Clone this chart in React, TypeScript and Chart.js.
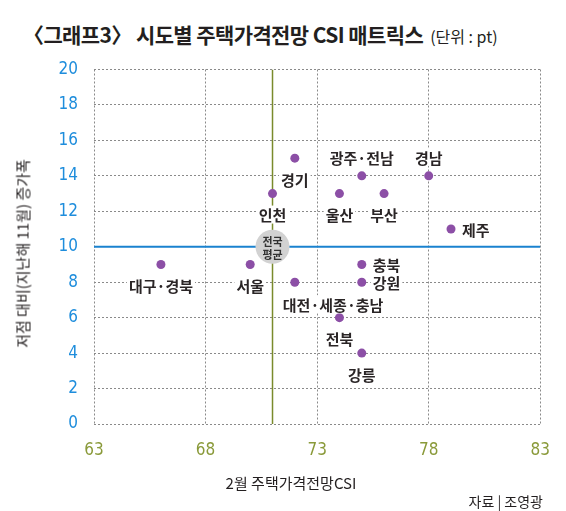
import React, { useEffect, useRef } from 'react';
import { Chart, registerables } from 'chart.js';

Chart.register(...registerables);

// ---- data ----
const REGIONS = ['경기', '인천', '서울', '대구·경북', '대전·세종·충남', '광주·전남', '경남', '울산', '부산', '제주', '충북', '강원', '전북', '강릉'];
const CSI_FEB = [72, 71, 70, 66, 72, 75, 78, 74, 76, 79, 75, 75, 74, 75];
const RISE_FROM_LOW = [15, 13, 9, 9, 8, 14, 14, 13, 13, 11, 9, 8, 6, 4];
const NATIONAL_CSI = 71;
const NATIONAL_RISE = 10;
const X_TICKS = [63, 68, 73, 78, 83];
const Y_TICKS = [0, 2, 4, 6, 8, 10, 12, 14, 16, 18, 20];
const NATIONAL_LABEL = ['전국', '평균'];

// label placement (style only)
const LABEL_PLACE = ['below', 'below', 'below', 'below', 'belowRight', 'above', 'above', 'below', 'below', 'right', 'right', 'right', 'below', 'below'];

const CJK = '"Noto Sans CJK KR", "Noto Sans", sans-serif';
const NUM = '"Liberation Sans Narrow", "DejaVu Sans Condensed", "Liberation Sans", sans-serif';

const labelPlugin = {
  id: 'pointLabels',
  afterDatasetsDraw(chart: any) {
    const ctx = chart.ctx;
    const meta = chart.getDatasetMeta(0);
    ctx.save();
    ctx.font = `bold 15px ${CJK}`;
    ctx.textBaseline = 'middle';
    meta.data.forEach((pt: any, i: number) => {
      const p = LABEL_PLACE[i];
      let x = pt.x;
      let y = pt.y;
      let align: CanvasTextAlign = 'center';
      if (p === 'below') { y += 21; }
      else if (p === 'above') { y -= 19; }
      else if (p === 'right') { align = 'left'; x += 11; }
      else if (p === 'belowRight') { align = 'left'; x -= 12; y += 22; }
      const text = REGIONS[i];
      const w = ctx.measureText(text).width;
      const left = align === 'center' ? x - w / 2 : x;
      ctx.fillStyle = '#ffffff';
      ctx.fillRect(left - 2, y - 9, w + 4, 18);
      ctx.fillStyle = '#2a2526';
      ctx.textAlign = align;
      ctx.fillText(text, x, y + 1);
    });
    const avg = chart.getDatasetMeta(1).data[0];
    ctx.font = `bold 11px ${CJK}`;
    ctx.textAlign = 'center';
    ctx.fillStyle = '#333333';
    ctx.fillText(NATIONAL_LABEL[0], avg.x, avg.y - 5);
    ctx.fillText(NATIONAL_LABEL[1], avg.x, avg.y + 8);
    ctx.restore();
  },
};

export default function App() {
  const canvasRef = useRef<HTMLCanvasElement | null>(null);

  useEffect(() => {
    if (!canvasRef.current) return;
    const xMin = X_TICKS[0];
    const xMax = X_TICKS[X_TICKS.length - 1];
    const yMin = Y_TICKS[0];
    const yMax = Y_TICKS[Y_TICKS.length - 1];
    const chart = new Chart(canvasRef.current, {
      type: 'scatter',
      data: {
        datasets: [
          {
            label: '시도',
            data: CSI_FEB.map((x, i) => ({ x, y: RISE_FROM_LOW[i] })),
            backgroundColor: '#8c4fa6',
            borderColor: '#8c4fa6',
            pointRadius: 4.5,
            pointBorderWidth: 0,
            order: 0,
          },
          {
            label: '전국 평균',
            data: [{ x: NATIONAL_CSI, y: NATIONAL_RISE }],
            backgroundColor: '#d2d2d2',
            borderColor: '#d2d2d2',
            pointRadius: 17,
            pointBorderWidth: 0,
            order: 1,
          },
          {
            label: 'h',
            data: [{ x: xMin, y: NATIONAL_RISE }, { x: xMax, y: NATIONAL_RISE }],
            showLine: true,
            borderColor: '#1a82cf',
            borderWidth: 2,
            pointRadius: 0,
            order: 2,
          },
          {
            label: 'v',
            data: [{ x: NATIONAL_CSI, y: yMin }, { x: NATIONAL_CSI, y: yMax }],
            showLine: true,
            borderColor: '#7a8b2c',
            borderWidth: 1.5,
            pointRadius: 0,
            order: 3,
          },
        ],
      },
      options: {
        responsive: false,
        animation: false,
        events: [],
        layout: { padding: { top: 69.5, right: 22, left: 0, bottom: 0 } },
        plugins: {
          legend: { display: false },
          tooltip: { enabled: false },
          title: { display: false },
        },
        scales: {
          x: {
            type: 'linear',
            min: xMin,
            max: xMax,
            afterFit: (s: any) => { s.height = 87; },
            afterBuildTicks: (s: any) => { s.ticks = X_TICKS.map((v) => ({ value: v })); },
            ticks: {
              color: '#8a9a3a',
              padding: 16,
              font: { family: NUM, size: 17 },
            },
            grid: { color: '#8a8a8a', lineWidth: 1, drawTicks: false },
            border: { display: false, dash: [2, 2] },
          },
          y: {
            type: 'linear',
            min: yMin,
            max: yMax,
            afterFit: (s: any) => { s.width = 94; },
            afterBuildTicks: (s: any) => { s.ticks = Y_TICKS.map((v) => ({ value: v })); },
            ticks: {
              color: '#1e8ddc',
              padding: 16,
              font: { family: NUM, size: 17 },
            },
            grid: { color: '#8a8a8a', lineWidth: 1, drawTicks: false },
            border: { display: false, dash: [2, 2] },
          },
        },
      },
      plugins: [labelPlugin],
    } as any);
    return () => chart.destroy();
  }, []);

  return (
    <div style={{ position: 'fixed', left: 0, top: 0, width: 566, height: 511, background: '#fff', overflow: 'hidden' }}>
      <div style={{ position: 'absolute', left: 23, top: 24, whiteSpace: 'nowrap', fontFamily: CJK, lineHeight: 1, color: '#231f20' }}>
        <span style={{ fontSize: 21, fontWeight: 'bold', letterSpacing: -0.6 }}>〈그래프3〉 시도별 주택가격전망 CSI 매트릭스</span>
        <span style={{ fontSize: 16, marginLeft: 7 }}>(단위 : pt)</span>
      </div>
      <canvas ref={canvasRef} width={566} height={511} style={{ position: 'absolute', left: 0, top: 0, width: 566, height: 511 }} />
      <div style={{ position: 'absolute', left: 22 - 150, top: 253 - 7.5, width: 300, height: 15, textAlign: 'center', fontFamily: CJK, fontSize: 15, lineHeight: 1, color: '#231f20', transform: 'rotate(-90deg)', whiteSpace: 'nowrap' }}>
        저점 대비(지난해 11월) 증가폭
      </div>
      <div style={{ position: 'absolute', left: 291 - 150, top: 475, width: 300, textAlign: 'center', fontFamily: CJK, fontSize: 15, lineHeight: 1, color: '#231f20', whiteSpace: 'nowrap' }}>
        2월 주택가격전망CSI
      </div>
      <div style={{ position: 'absolute', right: 23, top: 494, textAlign: 'right', fontFamily: CJK, fontSize: 14, lineHeight: 1, color: '#231f20', whiteSpace: 'nowrap' }}>
        자료 | 조영광
      </div>
    </div>
  );
}
